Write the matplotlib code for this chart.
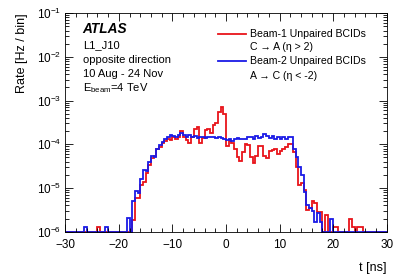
import numpy as np
import matplotlib
matplotlib.use("Agg")
import matplotlib.pyplot as plt
from matplotlib.ticker import MultipleLocator, LogLocator, NullFormatter
from matplotlib.lines import Line2D

plt.rcParams['font.family'] = ['Liberation Sans', 'DejaVu Sans']
plt.rcParams['mathtext.fontset'] = 'custom'
plt.rcParams['mathtext.rm'] = 'Liberation Sans'

# 120 bins of 0.5 ns from -30 to 30 ns
t_min, t_max, n_bins = -30.0, 30.0, 120

# Beam-1 unpaired BCIDs (C -> A), rate [Hz/bin] per bin, bin lower edges -30.0 ... 29.5
beam1 = [
    0, 0, 0, 0, 0, 0, 0, 0, 0, 0,                      # -30.0 .. -25.5
    0, 0, 1.25e-6, 0, 0, 0, 0, 0, 0, 0,                # -25.0 .. -20.5
    0, 0, 0, 0, 0, 1.9e-6, 6.0e-6, 6.0e-6, 1.2e-5, 1.4e-5,   # -20.0 .. -15.5
    2.2e-5, 3.4e-5, 4.8e-5, 5.5e-5, 8.0e-5, 8.5e-5, 1.1e-4, 1.2e-4, 1.35e-4, 1.25e-4,  # -15.0 .. -10.5
    1.45e-4, 1.3e-4, 1.5e-4, 2.0e-4, 1.5e-4, 1.25e-4, 1.05e-4, 1.5e-4, 2.3e-4, 2.5e-4,  # -10.0 .. -5.5
    1.1e-4, 1.4e-4, 2.1e-4, 2.3e-4, 1.8e-4, 2.8e-4, 3.0e-4, 5.5e-4, 7.0e-4, 5.0e-4,    # -5.0 .. -0.5
    9.0e-5, 1.2e-4, 1.1e-4, 8.0e-5, 5.0e-5, 4.2e-5, 6.5e-5, 1.0e-4, 9.5e-5, 5.0e-5,    # 0.0 .. 4.5
    3.8e-5, 5.5e-5, 9.0e-5, 9.0e-5, 5.5e-5, 4.8e-5, 7.0e-5, 7.5e-5, 8.0e-5, 6.0e-5,    # 5.0 .. 9.5
    7.0e-5, 8.0e-5, 8.5e-5, 1.0e-4, 1.0e-4, 6.5e-5, 3.0e-5, 1.2e-5, 1.3e-5, 9.0e-6,    # 10.0 .. 14.5
    3.2e-6, 3.5e-6, 5.0e-6, 4.5e-6, 2.8e-6, 2.8e-6, 0, 2.4e-6, 0, 0,                  # 15.0 .. 19.5
    1.3e-6, 1.3e-6, 0, 0, 0, 0, 2.0e-6, 1.3e-6, 0, 1.3e-6,                            # 20.0 .. 24.5
    1.3e-6, 0, 0, 0, 0, 0, 0, 0, 0, 0,                                                # 25.0 .. 29.5
]

# Beam-2 unpaired BCIDs (A -> C)
beam2 = [
    0, 0, 0, 0, 0, 0, 0, 1.25e-6, 0, 0,                # -30.0 .. -25.5
    0, 0, 0, 0, 0, 1.25e-6, 0, 0, 0, 0,                # -25.0 .. -20.5
    0, 0, 0, 2.1e-6, 0, 5.0e-6, 8.5e-6, 7.5e-6, 1.6e-5, 2.6e-5,   # -20.0 .. -15.5
    2.4e-5, 4.0e-5, 5.5e-5, 5.0e-5, 8.0e-5, 9.5e-5, 1.15e-4, 1.35e-4, 1.45e-4, 1.6e-4,  # -15.0 .. -10.5
    1.55e-4, 1.45e-4, 1.6e-4, 1.85e-4, 1.6e-4, 1.5e-4, 1.65e-4, 1.45e-4, 1.55e-4, 1.4e-4,  # -10.0 .. -5.5
    1.5e-4, 1.45e-4, 1.4e-4, 1.45e-4, 1.5e-4, 1.45e-4, 1.4e-4, 1.45e-4, 1.4e-4, 1.35e-4,  # -5.0 .. -0.5
    1.25e-4, 1.35e-4, 1.2e-4, 1.35e-4, 1.4e-4, 1.3e-4, 1.35e-4, 1.3e-4, 1.45e-4, 1.5e-4,  # 0.0 .. 4.5
    1.35e-4, 1.55e-4, 1.4e-4, 1.5e-4, 1.75e-4, 1.55e-4, 1.4e-4, 1.55e-4, 1.35e-4, 1.45e-4,  # 5.0 .. 9.5
    1.3e-4, 1.45e-4, 1.35e-4, 1.45e-4, 1.45e-4, 8.0e-5, 5.0e-5, 3.0e-5, 2.0e-5, 8.0e-6,  # 10.0 .. 14.5
    4.0e-6, 3.5e-6, 3.0e-6, 1.7e-6, 2.7e-6, 1.7e-6, 0, 0, 0, 2.0e-6,                    # 15.0 .. 19.5
    0, 0, 0, 0, 0, 0, 0, 0, 0, 0,                                                     # 20.0 .. 24.5
    0, 0, 0, 0, 0, 0, 0, 0, 0, 0,                                                     # 25.0 .. 29.5
]

legend1 = ["Beam-1 Unpaired BCIDs", "C \u2192 A (\u03b7 > 2)"]
legend2 = ["Beam-2 Unpaired BCIDs", "A \u2192 C (\u03b7 < -2)"]
info_lines = ["L1_J10", "opposite direction", "10 Aug - 24 Nov", r"E$_{\mathregular{beam}}$=4 TeV"]

y_floor, y_top = 1e-6, 1e-1

edges = np.linspace(t_min, t_max, n_bins + 1)

fig = plt.figure(figsize=(4.07, 2.76), dpi=100)
ax = fig.add_axes([0.1605, 0.1605, 0.7895, 0.7915])

red = '#e8141a'
blue = '#1a1ae6'
lw = 1.3
ax.stairs(np.maximum(np.array(beam1), y_floor), edges, baseline=None, color=red, lw=lw, clip_on=False)
ax.stairs(np.maximum(np.array(beam2), y_floor), edges, baseline=None, color=blue, lw=lw, clip_on=False)

ax.set_yscale('log')
ax.set_xlim(t_min, t_max)
ax.set_ylim(y_floor, y_top)

ax.xaxis.set_major_locator(MultipleLocator(10))
ax.xaxis.set_minor_locator(MultipleLocator(2))
ax.yaxis.set_major_locator(LogLocator(base=10, numticks=10))
ax.yaxis.set_minor_locator(LogLocator(base=10, subs=np.arange(2, 10), numticks=20))
ax.yaxis.set_minor_formatter(NullFormatter())
ax.tick_params(which='both', direction='in', top=True, right=True, labelsize=8.5)
ax.tick_params(axis='x', pad=5)
ax.tick_params(axis='y', pad=3)
ax.tick_params(which='major', length=6, width=0.6)
ax.tick_params(which='minor', length=3, width=0.6)
for s in ax.spines.values():
    s.set_linewidth(0.6)

ax.set_ylabel("Rate [Hz / bin]", fontsize=9, loc='top', labelpad=6)
ax.set_xlabel("t [ns]", fontsize=9, loc='right', labelpad=8)

# text block
ax.text(0.052, 0.93, "ATLAS", transform=ax.transAxes, fontsize=9.8,
        fontweight='bold', fontstyle='italic', va='center', ha='left')
ys = [0.856, 0.786, 0.722, 0.658]
for s, yv in zip(info_lines, ys):
    ax.text(0.055, yv, s, transform=ax.transAxes, fontsize=8, va='center', ha='left')

# legend (drawn by hand, ROOT style)
tr = ax.transAxes
for col, lines, y1, y2 in [(red, legend1, 0.9066, 0.8443), (blue, legend2, 0.780, 0.713)]:
    ax.add_line(Line2D([0.474, 0.561], [y1, y1], transform=tr, color=col, lw=lw))
    ax.text(0.5747, y1, lines[0], transform=tr, fontsize=7.6, va='center', ha='left')
    ax.text(0.5747, y2, lines[1], transform=tr, fontsize=7.6, va='center', ha='left')

fig.savefig("out.png", dpi=100)
